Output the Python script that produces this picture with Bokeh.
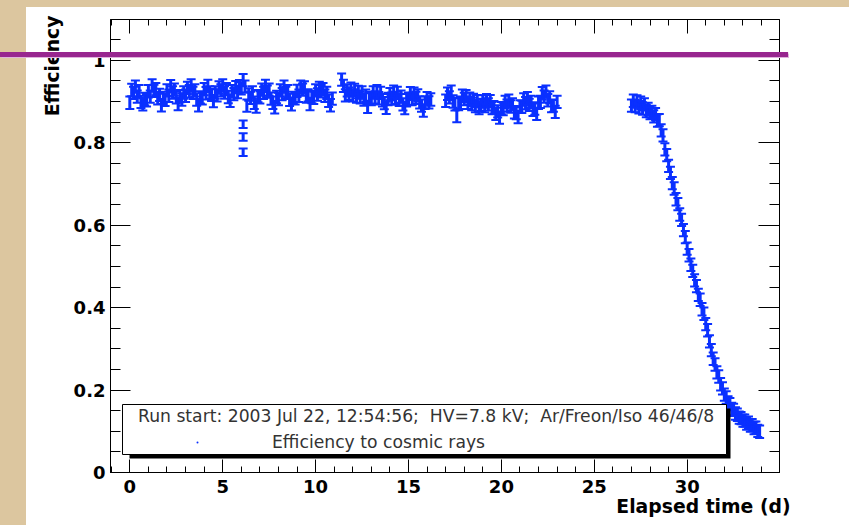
import numpy as np
from bokeh.plotting import figure
from bokeh.models import (Range1d, LinearAxis, SingleIntervalTicker, CustomJSTickFormatter,
                          BoxAnnotation, Legend, LegendItem, ColumnDataSource, Title,
                          InlineStyleSheet)
from bokeh.embed import file_html
from bokeh.resources import INLINE

# ---------------- data (elapsed time in days, efficiency) ----------------
# runs are 0.1 d apart inside each data-taking period
seg_a_start = 0.0
seg_a_eff = [0.897, 0.928, 0.921, 0.936, 0.912, 0.925, 0.899, 0.893, 0.906, 0.903,
             0.925, 0.912, 0.939, 0.926, 0.930, 0.908, 0.916, 0.891, 0.909, 0.904,
             0.927, 0.914, 0.937, 0.922, 0.929, 0.910, 0.894, 0.913, 0.905, 0.922,
             0.914, 0.933, 0.925, 0.939, 0.921, 0.927, 0.905, 0.891, 0.910, 0.908,
             0.930, 0.920, 0.938, 0.922, 0.916, 0.901, 0.922, 0.915, 0.934, 0.927,
             0.939, 0.922, 0.930, 0.911, 0.902, 0.925, 0.918, 0.935, 0.923, 0.937,
             0.932, 0.952, 0.936, 0.890, 0.917, 0.909, 0.922, 0.897, 0.888, 0.913,
             0.910, 0.929, 0.921, 0.938, 0.924, 0.929, 0.907, 0.897, 0.886, 0.911,
             0.906, 0.927, 0.918, 0.936, 0.921, 0.925, 0.904, 0.893, 0.909, 0.908,
             0.926, 0.914, 0.936, 0.929, 0.934, 0.912, 0.915, 0.894, 0.911, 0.909,
             0.927, 0.917, 0.933, 0.925, 0.930, 0.914, 0.921, 0.902, 0.891, 0.907]

seg_b_start = 11.4
seg_b_eff = [0.953, 0.938, 0.915, 0.927, 0.919, 0.931,
             0.915, 0.928, 0.912, 0.923, 0.910, 0.922, 0.905, 0.914, 0.887, 0.909,
             0.906, 0.922, 0.910, 0.925, 0.908, 0.921, 0.903, 0.896, 0.885, 0.906,
             0.918, 0.907, 0.924, 0.909, 0.921, 0.904, 0.912, 0.893, 0.884, 0.903,
             0.907, 0.920, 0.906, 0.919, 0.909, 0.915, 0.898, 0.890, 0.878, 0.897,
             0.908, 0.898, 0.905]

seg_c_start = 17.0
seg_c_eff = [0.902, 0.919, 0.910, 0.924, 0.900, 0.893, 0.865, 0.894, 0.897, 0.914,
             0.906, 0.913, 0.897, 0.907, 0.894, 0.904, 0.889, 0.901, 0.884, 0.892,
             0.900, 0.889, 0.903, 0.893, 0.901, 0.884, 0.886, 0.870, 0.876, 0.861,
             0.884, 0.882, 0.899, 0.890, 0.902, 0.888, 0.893, 0.874, 0.872, 0.862,
             0.888, 0.887, 0.905, 0.896, 0.908, 0.892, 0.899, 0.880, 0.883, 0.870,
             0.897, 0.899, 0.920, 0.912, 0.924, 0.903, 0.910, 0.889, 0.890, 0.875,
             0.899]

seg_d_start = 27.0
seg_d_eff = [0.890, 0.902, 0.889, 0.900, 0.886, 0.897, 0.883, 0.893, 0.877, 0.882,
             0.872, 0.875, 0.864, 0.869, 0.854, 0.855, 0.830, 0.818, 0.784, 0.770,
             0.744, 0.727, 0.702, 0.689, 0.663, 0.651, 0.626, 0.613, 0.588, 0.571,
             0.543, 0.527, 0.504, 0.489, 0.466, 0.452, 0.431, 0.419, 0.396, 0.385,
             0.360, 0.345, 0.318, 0.297, 0.276, 0.262, 0.243, 0.233, 0.214, 0.204,
             0.189, 0.182, 0.170, 0.166, 0.154, 0.152, 0.143, 0.140, 0.133, 0.132,
             0.126, 0.126, 0.119, 0.121, 0.114, 0.115, 0.108, 0.109, 0.101, 0.099]
run_step = 0.1

# three low runs around day 6
outlier_t = [6.1, 6.1, 6.1]
outlier_eff = [0.845, 0.814, 0.777]

eff_error = 0.015        # error-bar half height of the runs
outlier_error = 0.009

x_tick_interval = 5
y_tick_interval = 0.2

legend_header = "Run start: 2003 Jul 22, 12:54:56;\u00a0 HV=7.8 kV;\u00a0 Ar/Freon/Iso 46/46/8"
legend_label = "Efficiency to cosmic rays"
x_title = "Elapsed time (d)"
y_title = "Efficiency"

# ---------------- build columns ----------------
t, e, err = [], [], []
for start, vals in [(seg_a_start, seg_a_eff), (seg_b_start, seg_b_eff),
                    (seg_c_start, seg_c_eff), (seg_d_start, seg_d_eff)]:
    for i, v in enumerate(vals):
        t.append(round(start + i * run_step, 3))
        e.append(v)
        err.append(eff_error)
for tt, v in zip(outlier_t, outlier_eff):
    t.append(tt); e.append(v); err.append(outlier_error)

t = np.array(t); e = np.array(e); err = np.array(err)
src = ColumnDataSource(dict(x=t, y=e, lo=e - err, hi=e + err))

BLUE = "#0a30ff"
PARCH = "#dcc69f"
PURPLE = "#98268f"
FONT = "DejaVu Sans"

p = figure(width=849, height=525, output_backend="svg", toolbar_location=None,
           x_range=Range1d(-1.04, 34.97), y_range=Range1d(0, 1.099),
           min_border_left=110, min_border_right=70, min_border_top=19, min_border_bottom=53)
p.xgrid.visible = False
p.ygrid.visible = False
p.background_fill_color = "white"
p.border_fill_color = "white"
p.outline_line_color = "black"
p.outline_line_width = 1

xticker = SingleIntervalTicker(interval=x_tick_interval, num_minor_ticks=5)
yticker = SingleIntervalTicker(interval=y_tick_interval, num_minor_ticks=4)
no_labels = CustomJSTickFormatter(code="return '';")


def style_axis(ax, tin, minor_in, labels):
    ax.axis_line_color = "black"
    ax.major_tick_line_color = "black"
    ax.minor_tick_line_color = "black"
    ax.major_tick_in = tin
    ax.major_tick_out = 0
    ax.minor_tick_in = minor_in
    ax.minor_tick_out = 0
    ax.major_label_text_font = FONT
    ax.major_label_text_font_style = "bold"
    ax.major_label_text_font_size = "18px"
    ax.major_label_text_color = "black"
    if not labels:
        ax.formatter = no_labels
        ax.major_label_standoff = 0


xa = p.xaxis[0]
xa.ticker = xticker
style_axis(xa, 13, 6, True)
xa.major_label_standoff = 7

ya = p.yaxis[0]
ya.ticker = yticker
ya.formatter = CustomJSTickFormatter(code="return parseFloat(tick.toFixed(3)).toString();")
style_axis(ya, 20, 10, True)
ya.major_label_standoff = 5

top_ax = LinearAxis(ticker=xticker)
style_axis(top_ax, 14, 6, False)
p.add_layout(top_ax, "above")
right_ax = LinearAxis(ticker=yticker)
style_axis(right_ax, 21, 10, False)
p.add_layout(right_ax, "right")

# axis titles, ROOT style at the far end of each axis
p.add_layout(Title(text=y_title, align="right", vertical_align="bottom", offset=-4, standoff=16,
                   text_font=FONT, text_font_style="bold", text_font_size="18.8px",
                   text_color="black"), "left")
p.add_layout(Title(text=x_title, align="right", vertical_align="top", offset=-11, standoff=0,
                   text_font=FONT, text_font_style="bold", text_font_size="18.8px",
                   text_color="black"), "below")

# data: vertical error bars with end caps and tiny dot markers
p.segment(x0="x", y0="lo", x1="x", y1="hi", source=src, line_color=BLUE, line_width=3)
p.scatter(x="x", y="lo", source=src, marker="dash", size=9, line_color=BLUE, line_width=2)
p.scatter(x="x", y="hi", source=src, marker="dash", size=9, line_color=BLUE, line_width=2)
dots = p.scatter(x="x", y="y", source=src, marker="dot", size=6, color=BLUE)

# legend box with ROOT-like shadow
p.add_layout(BoxAnnotation(left=129, right=730, top=408, bottom=458, left_units="canvas", right_units="canvas",
                           top_units="canvas", bottom_units="canvas", fill_color="black", fill_alpha=1,
                           line_alpha=0))
p.add_layout(BoxAnnotation(left=122, right=726, top=404, bottom=454, left_units="canvas", right_units="canvas",
                           top_units="canvas", bottom_units="canvas", fill_color="white", fill_alpha=1,
                           line_color="black", line_width=1, line_alpha=1))

legend = Legend(items=[LegendItem(label=legend_label, renderers=[dots])],
                location=(28, 20), title=legend_header,
                title_text_font=FONT, title_text_font_size="17.2px", title_text_font_style="normal",
                title_text_color="#333333", title_standoff=6,
                label_text_font=FONT, label_text_font_size="17.2px", label_text_color="#333333",
                padding=0, spacing=0, margin=0, glyph_width=118, glyph_height=20, label_height=20,
                label_standoff=16, border_line_alpha=0, background_fill_alpha=0)
p.add_layout(legend)

# slide decoration: parchment strips and the purple rule running over the chart
css = f"""
:host {{ position: relative; }}
:host::before {{
  content: ""; position: absolute; left: 0; top: 0; width: 849px; height: 525px;
  background: linear-gradient({PARCH}, {PARCH}) 0 0 / 26px 100% no-repeat,
              linear-gradient({PARCH}, {PARCH}) 0 0 / 100% 7px no-repeat;
  z-index: 10; pointer-events: none;
}}
:host::after {{
  content: ""; position: absolute; left: 0; top: 52px; width: 788px; height: 5px;
  background: {PURPLE}; box-shadow: 0 0 1px 0.5px #e0b3dc; z-index: 11; pointer-events: none;
}}
"""
p.stylesheets = [InlineStyleSheet(css=css)]

open("out.html", "w").write(file_html(p, INLINE))
